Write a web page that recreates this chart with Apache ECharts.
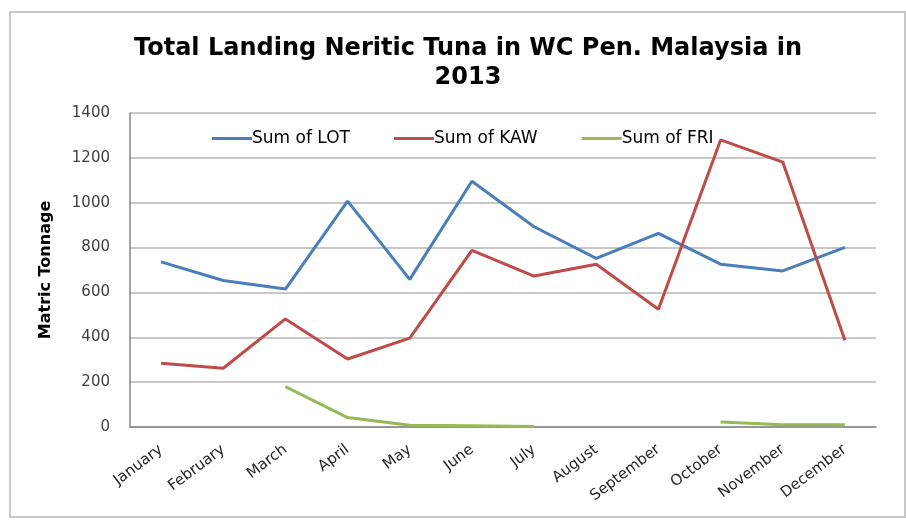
<!DOCTYPE html>
<html>
<head>
<meta charset="utf-8">
<script src="https://cdn.jsdelivr.net/npm/echarts@6/dist/echarts.min.js"></script>
<style>html,body{margin:0;padding:0;background:#fff}#c{width:906px;height:521px}</style>
</head>
<body>
<div id="c"></div>
<script>
const months = ['January','February','March','April','May','June','July','August','September','October','November','December'];
const lot = [736, 653, 615, 1007, 658, 1096, 893, 752, 863, 726, 696, 801];
const kaw = [284, 262, 482, 303, 396, 788, 673, 726, 525, 1280, 1181, 387];
const fri = [null, null, 180, 42, 8, 6, 2, null, null, 22, 10, 10];
const yTicks = [0, 200, 400, 600, 800, 1000, 1200, 1400];

const FONT = 'DejaVu Sans';
const chart = echarts.init(document.getElementById('c'));
chart.setOption({
  backgroundColor: '#fff',
  animation: false,
  title: {
    text: 'Total Landing Neritic Tuna in WC Pen. Malaysia in\n2013',
    left: 463, top: 29, textAlign: 'center',
    textStyle: { fontFamily: FONT, fontWeight: 'bold', fontSize: 24, color: '#000', lineHeight: 29 }
  },
  graphic: [{
    type: 'rect', shape: { x: 10, y: 12, width: 895, height: 505 },
    style: { fill: 'none', stroke: '#c8c8c8', lineWidth: 2 }, silent: true, z: -1
  }],
  legend: {
    left: 207, top: 125,
    icon: 'rect', itemWidth: 40, itemHeight: 3, itemGap: 44,
    textStyle: { fontFamily: FONT, fontSize: 17, color: '#000', padding: [0, 0, 0, -5] },
    data: ['Sum of LOT', 'Sum of KAW', 'Sum of FRI']
  },
  grid: { left: 130, right: 30, top: 113, bottom: 94, containLabel: false },
  xAxis: {
    type: 'category', data: months, boundaryGap: true,
    axisLine: { lineStyle: { color: '#868686', width: 1.5 } },
    axisTick: { show: false },
    axisLabel: { rotate: 37, margin: 21, fontFamily: FONT, fontSize: 15, color: '#262626', interval: 0 }
  },
  yAxis: {
    type: 'value', min: yTicks[0], max: yTicks[yTicks.length - 1], interval: 200,
    name: 'Matric Tonnage', nameLocation: 'middle', nameGap: 76, nameRotate: 90,
    nameTextStyle: { fontFamily: FONT, fontWeight: 'bold', fontSize: 16, color: '#000' },
    axisLine: { show: true, lineStyle: { color: '#868686', width: 1.5 } },
    axisTick: { show: false },
    splitLine: { lineStyle: { color: '#b4b4b4', width: 1.5 } },
    axisLabel: { margin: 20, fontFamily: FONT, fontSize: 15, color: '#404040', formatter: v => String(v) }
  },
  series: [
    { name: 'Sum of LOT', type: 'line', data: lot, showSymbol: false, symbol: 'none', lineStyle: { width: 3, color: '#4a7ebb' }, itemStyle: { color: '#4a7ebb' } },
    { name: 'Sum of KAW', type: 'line', data: kaw, showSymbol: false, symbol: 'none', lineStyle: { width: 3, color: '#be4b48' }, itemStyle: { color: '#be4b48' } },
    { name: 'Sum of FRI', type: 'line', data: fri, showSymbol: false, symbol: 'none', connectNulls: false, lineStyle: { width: 3, color: '#98b954' }, itemStyle: { color: '#98b954' } }
  ]
});
</script>
</body>
</html>
